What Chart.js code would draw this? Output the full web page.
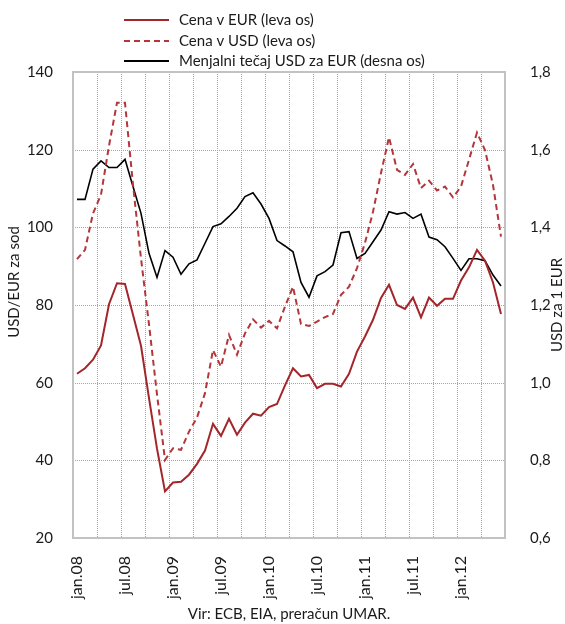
<!DOCTYPE html>
<html>
<head>
<meta charset="utf-8">
<script src="https://cdn.jsdelivr.net/npm/chart.js@4"></script>
<style>
  html, body { margin: 0; padding: 0; background: #fff; }
  #wrap { width: 565px; height: 624px; position: relative; }
</style>
</head>
<body>
<div id="wrap"><canvas id="chart" width="565" height="624"></canvas></div>
<script>
// months jan.08 - jun.12
const months = [
  'jan.08','feb.08','mar.08','apr.08','maj.08','jun.08','jul.08','avg.08','sep.08','okt.08','nov.08','dec.08',
  'jan.09','feb.09','mar.09','apr.09','maj.09','jun.09','jul.09','avg.09','sep.09','okt.09','nov.09','dec.09',
  'jan.10','feb.10','mar.10','apr.10','maj.10','jun.10','jul.10','avg.10','sep.10','okt.10','nov.10','dec.10',
  'jan.11','feb.11','mar.11','apr.11','maj.11','jun.11','jul.11','avg.11','sep.11','okt.11','nov.11','dec.11',
  'jan.12','feb.12','mar.12','apr.12','maj.12','jun.12'
];

// price per barrel in EUR (left axis)
const priceEur = [
  62.3, 63.7, 65.9, 69.6, 80.2, 85.6, 85.4, 77.5, 69.5, 56.0, 43.0, 32.0,
  34.3, 34.5, 36.3, 39.1, 42.5, 49.4, 46.3, 50.7, 46.6, 49.7, 52.0, 51.5,
  53.7, 54.5, 59.3, 63.7, 61.6, 62.0, 58.6, 59.7, 59.7, 59.0, 62.3, 68.0,
  71.9, 76.2, 81.8, 85.2, 80.0, 79.0, 81.9, 76.8, 81.9, 79.8, 81.6, 81.6,
  86.3, 89.7, 94.2, 91.4, 85.8, 77.7
];

// price per barrel in USD (left axis)
const priceUsd = [
  91.8, 94.2, 103.6, 108.4, 121.0, 132.1, 132.1, 111.0, 92.0, 75.0, 57.0, 40.1,
  43.1, 42.7, 47.4, 51.0, 57.3, 68.4, 64.1, 72.3, 67.2, 72.7, 76.3, 74.2,
  75.9, 74.0, 79.6, 84.7, 75.1, 74.6, 75.7, 76.9, 77.7, 82.6, 84.7, 89.5,
  96.0, 104.0, 114.0, 123.2, 114.8, 113.5, 116.3, 110.1, 112.0, 109.5, 110.5, 107.7,
  110.5, 117.4, 124.4, 119.9, 110.9, 97.6
];

// USD per 1 EUR (right axis)
const usdPerEur = [
  1.472, 1.472, 1.550, 1.571, 1.554, 1.554, 1.575, 1.505, 1.436, 1.333, 1.271, 1.340,
  1.323, 1.279, 1.306, 1.316, 1.359, 1.402, 1.409, 1.428, 1.449, 1.479, 1.489, 1.460,
  1.423, 1.366, 1.352, 1.337, 1.258, 1.220, 1.275, 1.286, 1.303, 1.386, 1.389, 1.320,
  1.333, 1.363, 1.393, 1.440, 1.434, 1.438, 1.423, 1.434, 1.375, 1.368, 1.350, 1.320,
  1.289, 1.319, 1.319, 1.314, 1.277, 1.249
];

const seriesNames = ['Cena v EUR (leva os)', 'Cena v USD (leva os)', 'Menjalni tečaj USD za EUR (desna os)'];
const leftTicks = [20, 140, 20];
const rightTicks = [0.6, 1.8, 0.2];

const FONT = 'Lato, "Liberation Sans", sans-serif';
const TXT = '#1a1a1a';
const GRID = '#a6a6a6';
const RED = '#a3262b';
const RED2 = '#b3363b';

// dotted grid (every tick on y, every 3rd month boundary on x) + grey frame
const extras = {
  id: 'extras',
  beforeDatasetsDraw(chart) {
    const { ctx, chartArea: a, scales } = chart;
    ctx.save();
    ctx.strokeStyle = GRID;
    ctx.lineWidth = 1;
    ctx.setLineDash([1, 1]);
    ctx.beginPath();
    scales.y.ticks.forEach(t => {
      const y = Math.round(scales.y.getPixelForValue(t.value)) + 0.5;
      ctx.moveTo(a.left, y);
      ctx.lineTo(a.right, y);
    });
    for (let i = 3; i < months.length; i += 3) {
      const x = Math.round((scales.x.getPixelForValue(i) + scales.x.getPixelForValue(i - 1)) / 2) + 0.5;
      ctx.moveTo(x, a.top);
      ctx.lineTo(x, a.bottom);
    }
    ctx.stroke();
    ctx.setLineDash([]);
    ctx.strokeStyle = '#c2c2c2';
    ctx.lineWidth = 2;
    ctx.strokeRect(a.left, a.top, a.right - a.left, a.bottom - a.top);
    ctx.restore();
  },
  afterDraw(chart) {
    const ctx = chart.ctx;
    ctx.save();
    // legend
    const rows = [20, 41, 61];
    const styles = [
      { color: RED, dash: [] },
      { color: RED2, dash: [6, 4] },
      { color: '#000', dash: [] }
    ];
    ctx.font = '15px ' + FONT;
    ctx.textBaseline = 'middle';
    rows.forEach((y, i) => {
      ctx.beginPath();
      ctx.setLineDash(styles[i].dash);
      ctx.strokeStyle = styles[i].color;
      ctx.lineWidth = 2;
      ctx.moveTo(124, y);
      ctx.lineTo(169, y);
      ctx.stroke();
      ctx.setLineDash([]);
      ctx.fillStyle = TXT;
      ctx.fillText(seriesNames[i], 179, y);
    });
    // axis titles
    ctx.textAlign = 'center';
    ctx.save();
    ctx.translate(14, 282);
    ctx.rotate(-Math.PI / 2);
    ctx.fillText('USD/EUR za sod', 0, 0);
    ctx.restore();
    ctx.save();
    ctx.translate(557, 305);
    ctx.rotate(-Math.PI / 2);
    ctx.fillText('USD za 1 EUR', 0, 0);
    ctx.restore();
    ctx.restore();
  }
};

new Chart(document.getElementById('chart'), {
  type: 'line',
  data: {
    labels: months,
    datasets: [
      {
        label: seriesNames[0], data: priceEur, yAxisID: 'y',
        borderColor: RED, borderWidth: 2, pointRadius: 0, tension: 0
      },
      {
        label: seriesNames[1], data: priceUsd, yAxisID: 'y',
        borderColor: RED2, borderWidth: 2, borderDash: [6, 4], pointRadius: 0, tension: 0
      },
      {
        label: seriesNames[2], data: usdPerEur, yAxisID: 'y2',
        borderColor: '#000', borderWidth: 1.6, pointRadius: 0, tension: 0
      }
    ]
  },
  options: {
    responsive: false,
    animation: false,
    layout: { padding: { top: 72, left: 0, right: 0, bottom: 1 } },
    plugins: { legend: { display: false }, tooltip: { enabled: false } },
    scales: {
      x: {
        offset: true,
        grid: { display: false },
        border: { display: false },
        ticks: {
          autoSkip: false, minRotation: 90, maxRotation: 90, padding: 10,
          color: TXT, font: { family: FONT, size: 16 },
          callback: function (v, i) { return i % 6 === 0 ? this.getLabelForValue(v) : ''; }
        },
        title: {
          display: true, text: 'Vir: ECB, EIA, preračun UMAR.', color: TXT,
          font: { family: FONT, size: 15 }, padding: { top: 0, bottom: 0 }
        },
        afterFit: s => { s.height = 85; }
      },
      y: {
        position: 'left',
        min: leftTicks[0], max: leftTicks[1],
        ticks: {
          stepSize: leftTicks[2], padding: 12, color: TXT, font: { family: FONT, size: 15 }
        },
        grid: { display: false },
        border: { display: false },
        afterFit: s => { s.width = 73; }
      },
      y2: {
        position: 'right',
        min: rightTicks[0], max: rightTicks[1],
        ticks: {
          stepSize: rightTicks[2], padding: 17, color: TXT, font: { family: FONT, size: 15 },
          callback: v => v.toFixed(1).replace('.', ',')
        },
        grid: { display: false },
        border: { display: false },
        afterFit: s => { s.width = 60; }
      }
    }
  },
  plugins: [extras]
});
</script>
</body>
</html>
